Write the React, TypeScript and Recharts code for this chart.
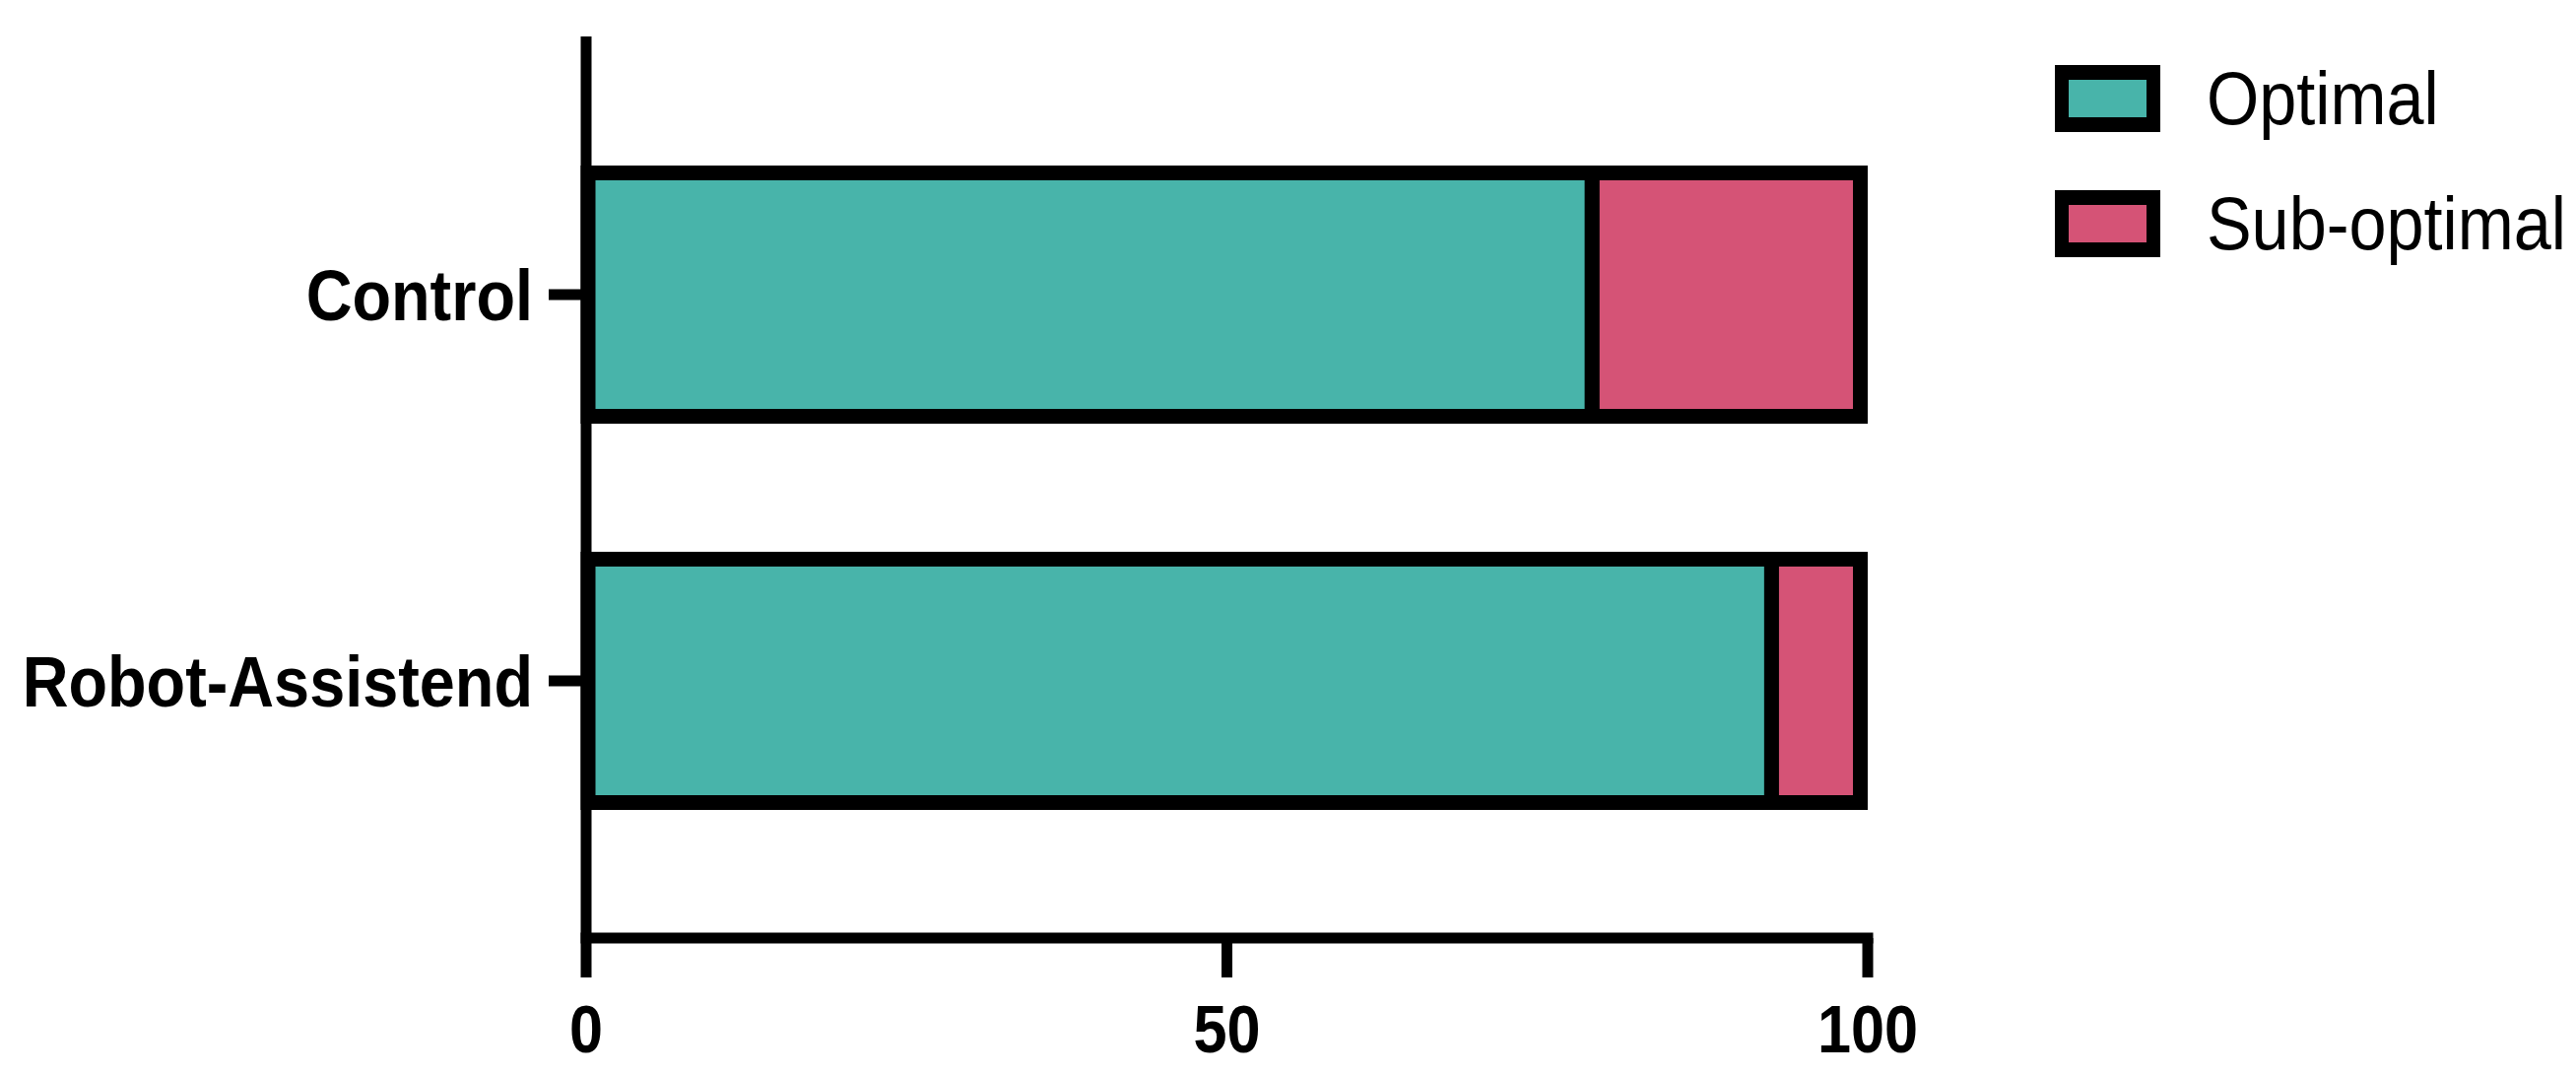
import { Bar, BarChart, Legend, XAxis, YAxis } from 'recharts'

const categories = ['Control', 'Robot-Assistend']
const optimal = [78.5, 92.5]
const subOptimal = [21.5, 7.5]
const xTicks = [0, 50, 100]

const seriesNames = ['Optimal', 'Sub-optimal']
const seriesColors = ['#48B4AA', '#D55376']

const FONT = '"Liberation Sans", Arial, Helvetica, sans-serif'
const BORDER = 15
const AXIS = 11

const data = categories.map((name, i) => ({
  name,
  optimal: optimal[i],
  subOptimal: subOptimal[i],
}))

// Prism-style bars: the black border sits inside the bar's outer edges,
// except where two stacked segments meet. On the axis side it only goes
// as far as the axis line itself.
function insetBar(leftInset: number, insetRight: boolean) {
  return (props: any) => {
    const { x, y, width, height, fill } = props
    const h = BORDER / 2
    const x0 = x + leftInset
    const x1 = x + width - (insetRight ? h : 0)
    return (
      <rect
        x={x0}
        y={y + h}
        width={Math.max(0, x1 - x0)}
        height={Math.max(0, height - BORDER)}
        fill={fill}
        stroke="#000"
        strokeWidth={BORDER}
      />
    )
  }
}

function NarrowTick({ x, y, payload, anchor, dy, size }: any) {
  return (
    <g transform={`translate(${x},${y})`}>
      <text
        transform="scale(0.9,1)"
        textAnchor={anchor}
        dy={dy}
        fill="#000"
        fontSize={size}
        fontWeight={700}
        fontFamily={FONT}
      >
        {payload.value}
      </text>
    </g>
  )
}

function LegendBox({ payload }: { payload?: Array<{ value?: string; color?: string }> }) {
  const rows = payload?.length
    ? payload.map((p) => ({ label: p.value ?? '', color: p.color ?? '#000' }))
    : seriesNames.map((label, i) => ({ label, color: seriesColors[i] }))
  return (
    <div style={{ fontFamily: FONT }}>
      {rows.map((row, i) => (
        <div
          key={row.label}
          style={{ display: 'flex', alignItems: 'center', height: 68, marginBottom: i === rows.length - 1 ? 0 : 59 }}
        >
          <div
            style={{
              width: 107,
              height: 68,
              flex: 'none',
              boxSizing: 'border-box',
              borderStyle: 'solid',
              borderColor: '#000',
              borderWidth: '15px 14px',
              background: row.color,
            }}
          />
          <span
            style={{
              marginLeft: 47,
              fontSize: 76,
              lineHeight: 1,
              color: '#000',
              whiteSpace: 'nowrap',
              display: 'inline-block',
              transform: 'scaleX(0.9)',
              transformOrigin: 'left center',
            }}
          >
            {row.label}
          </span>
        </div>
      ))}
    </div>
  )
}

export default function App() {
  return (
    <div style={{ position: 'absolute', left: 0, top: 0, background: '#fff' }}>
      <BarChart
        width={2615}
        height={1091}
        data={data}
        layout="vertical"
        margin={{ top: 37, right: 719, bottom: 0, left: 0 }}
      >
        <XAxis
          type="number"
          domain={[0, 100]}
          ticks={xTicks}
          height={139}
          tickSize={40}
          tickMargin={28}
          axisLine={{ stroke: '#000', strokeWidth: AXIS, strokeLinecap: 'square' }}
          tickLine={{ stroke: '#000', strokeWidth: AXIS }}
          tick={<NarrowTick anchor="middle" dy="0.71em" size={68} />}
        />
        <YAxis
          type="category"
          dataKey="name"
          width={595}
          interval={0}
          padding={{ top: 66, bottom: 65 }}
          tickSize={38}
          tickMargin={16}
          axisLine={{ stroke: '#000', strokeWidth: AXIS }}
          tickLine={{ stroke: '#000', strokeWidth: AXIS }}
          tick={<NarrowTick anchor="end" dy="0.355em" size={72} />}
        />
        <Legend
          layout="vertical"
          align="center"
          verticalAlign="middle"
          wrapperStyle={{ left: 2086, top: 66 }}
          content={<LegendBox />}
        />
        <Bar
          dataKey="optimal"
          name={seriesNames[0]}
          stackId="a"
          fill={seriesColors[0]}
          barSize={262}
          shape={insetBar((BORDER - AXIS) / 2, false)}
          isAnimationActive={false}
        />
        <Bar
          dataKey="subOptimal"
          name={seriesNames[1]}
          stackId="a"
          fill={seriesColors[1]}
          barSize={262}
          shape={insetBar(0, true)}
          isAnimationActive={false}
        />
      </BarChart>
    </div>
  )
}
